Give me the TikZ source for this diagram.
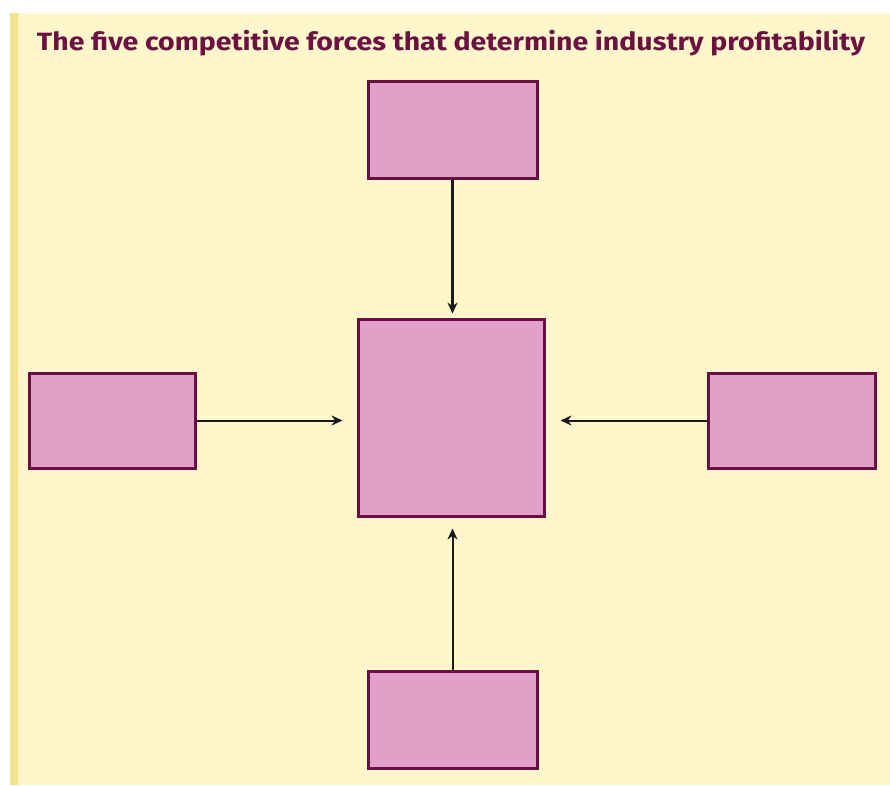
\documentclass[tikz,border=0pt]{standalone}
\usepackage{fontspec}
\usepackage{graphicx}
\setmainfont{Fira Sans}
\usetikzlibrary{arrows.meta}
\definecolor{cream}{HTML}{FFF7CB}
\definecolor{strip}{HTML}{F3E48C}
\definecolor{maroon}{HTML}{6A0F46}
\definecolor{pinkfill}{HTML}{E0A0C7}
\definecolor{titlecol}{HTML}{6B1243}
\tikzset{
  forcebox/.style={draw=maroon, fill=pinkfill, line width=3pt, inner sep=0pt, rectangle},
  conn/.style={draw=black!90, line width=2pt, -{Stealth[length=11pt,width=10pt]}},
  connthick/.style={conn, line width=3pt}
}
\begin{document}
\begin{tikzpicture}[x=1pt,y=-1pt]
\useasboundingbox (0,0) rectangle (890,785);
\fill[white] (0,0) rectangle (890,785);
\fill[cream] (10,13) rectangle (890,785);
\fill[strip] (10,13) rectangle (18,785);
\node[anchor=base, text=titlecol, font=\bfseries\fontsize{25}{30}\selectfont] (title) at (451,50)
  {\resizebox{828pt}{\height}{The five competitive forces that determine industry profitability}};
\node[forcebox, minimum width=169pt, minimum height=97pt] (T) at (452.5,129.5) {};
\node[forcebox, minimum width=186pt, minimum height=197pt] (C) at (451,417.5) {};
\node[forcebox, minimum width=166pt, minimum height=95pt] (L) at (112,420.5) {};
\node[forcebox, minimum width=167pt, minimum height=95pt] (R) at (791.5,420.5) {};
\node[forcebox, minimum width=169pt, minimum height=97pt] (B) at (452.5,719.5) {};
\draw[connthick, shorten >=4pt] (T.south) -- (C.north -| T.south);
\draw[conn, shorten >=14pt] (L.east) -- (C.west |- L.east);
\draw[conn, shorten >=15pt] (R.west) -- (C.east |- R.west);
\draw[conn, shorten >=11pt] (B.north) -- (C.south -| B.north);
\end{tikzpicture}
\end{document}
